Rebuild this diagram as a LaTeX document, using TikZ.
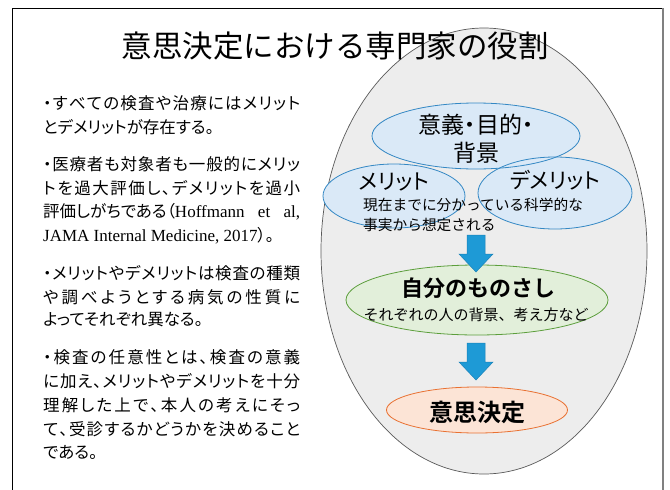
\documentclass[tikz,border=0pt]{standalone}
\usepackage{fontspec}
\setmainfont{Noto Sans CJK JP}[BoldFont={Noto Sans CJK JP Bold}]
\newfontfamily\jpp{Noto Sans CJK JP}[RawFeature=+palt,BoldFont={Noto Sans CJK JP Bold}]
\newfontfamily\timesf{Liberation Serif}
\usetikzlibrary{shapes.geometric,calc}
\makeatletter
\def\spreadit#1{\spr@first#1\@nil}
\def\spr@first#1{#1\spr@a}
\def\spr@a#1{\ifx#1\@nil\else\hskip0pt plus 1fil #1\expandafter\spr@a\fi}
\makeatother
\newcommand\jline[1]{\makebox[257pt][s]{\spreadit{#1}}}
\definecolor{bigfill}{RGB}{237,237,237}
\definecolor{bigline}{RGB}{90,90,90}
\definecolor{bluefill}{RGB}{218,233,247}
\definecolor{blueline}{RGB}{52,136,196}
\definecolor{greenfill}{RGB}{226,239,218}
\definecolor{greenline}{RGB}{92,158,60}
\definecolor{orangefill}{RGB}{252,228,214}
\definecolor{orangeline}{RGB}{233,113,50}
\definecolor{arrowblue}{RGB}{30,154,214}
\definecolor{arrowedge}{RGB}{26,130,185}
\tikzset{
  ell/.style={ellipse, inner sep=0pt, draw=none},
  lbl/.style={inner sep=0pt},
  bodyline/.style={lbl, anchor=west, font=\jpp\fontsize{16.5}{16.5}\selectfont},
  blueedge/.style={draw=blueline, line width=0.8pt},
  blockarrow/.style={fill=arrowblue, draw=arrowedge, line width=0.5pt},
}
\begin{document}
\begin{tikzpicture}[x=1pt,y=-1pt]
\useasboundingbox (0,0) rectangle (670,490);
\fill[white] (0,0) rectangle (670,490);
% slide frame
\draw[black, line width=1pt] (12,490) -- (12,8) -- (663,8);
\draw[black!50, line width=1.6pt] (663,8) -- (663,490);

% big ellipse
\node[ell, fill=bigfill, draw=bigline, line width=0.7pt, minimum width=326, minimum height=446] (big) at (484,251) {};

% title
\node[lbl, font=\fontsize{30.5}{30.5}\selectfont] (title) at (335,46) {意思決定における専門家の役割};

% left text
\node[bodyline] (p1a) at (43,103) {\jline{・すべての検査や治療にはメリット}};
\node[bodyline] (p1b) at (43,127) {とデメリットが存在する。};
\node[bodyline] (p2a) at (43,164) {\jline{・医療者も対象者も一般的にメリッ}};
\node[bodyline] (p2b) at (43,188) {\jline{トを過大評価し、デメリットを過小}};
\node[bodyline] (p2c) at (43,212) {\makebox[257pt][s]{評価しがちである（{\timesf\fontsize{17}{17}\selectfont Hoffmann et al,}}};
\node[bodyline] (p2d) at (43,236) {{\timesf\fontsize{17}{17}\selectfont JAMA Internal Medicine, 2017}）。};
\node[bodyline] (p3a) at (43,273) {\jline{・メリットやデメリットは検査の種類}};
\node[bodyline] (p3b) at (43,297) {\jline{や調べようとする病気の性質に}};
\node[bodyline] (p3c) at (43,320) {よってそれぞれ異なる。};
\node[bodyline] (p4a) at (43,357) {\jline{・検査の任意性とは、検査の意義}};
\node[bodyline] (p4b) at (43,381) {\jline{に加え、メリットやデメリットを十分}};
\node[bodyline] (p4c) at (43,405) {\jline{理解した上で、本人の考えにそっ}};
\node[bodyline] (p4d) at (43,429) {\jline{て、受診するかどうかを決めること}};
\node[bodyline] (p4e) at (43,452) {である。};

% three blue ellipses: fills then outlines
\node[ell, fill=bluefill, minimum width=208, minimum height=66] (imi) at (476,136) {};
\node[ell, fill=bluefill, minimum width=142, minimum height=64] (merit) at (394,196) {};
\node[ell, fill=bluefill, minimum width=154, minimum height=72] (demerit) at (555,193) {};
\draw[blueedge] (imi.center) ellipse [x radius=104, y radius=33];
\draw[blueedge] (merit.center) ellipse [x radius=71, y radius=32];
\draw[blueedge] (demerit.center) ellipse [x radius=77, y radius=36];

\node[lbl, font=\jpp\fontsize{23}{28}\selectfont, align=center] (imiT) at (476,139) {意義・目的・\\背景};
\node[lbl, font=\jpp\fontsize{21.5}{21.5}\selectfont] (meritT) at (394,182) {メリット};
\node[lbl, font=\jpp\fontsize{21.5}{21.5}\selectfont] (demeritT) at (555,180) {デメリット};
\node[lbl, anchor=west, font=\fontsize{14.7}{20}\selectfont, align=left] (sci) at (363,215) {現在までに分かっている科学的な\\事実から想定される};

% green ellipse
\node[ell, fill=greenfill, draw=greenline, line width=0.8pt, minimum width=262, minimum height=70] (own) at (477,300) {};
\node[lbl, font=\bfseries\fontsize{22}{22}\selectfont] (ownT) at (478,288) {自分のものさし};
\node[lbl, font=\fontsize{15}{15}\selectfont] (ownS) at (476,315) {それぞれの人の背景、考え方など};

% orange ellipse
\node[ell, fill=orangefill, draw=orangeline, line width=0.8pt, minimum width=181, minimum height=46] (dec) at (477,410) {};
\node[lbl, font=\bfseries\fontsize{24}{24}\selectfont] (decT) at (477,412) {意思決定};

% block arrows
\coordinate (a1) at (476,235);
\coordinate (a1tip) at (476,272);
\coordinate (a2) at (476,343);
\coordinate (a2tip) at (476,380);
\draw[blockarrow] ($(a1)+(-9,0)$) -- ($(a1)+(9,0)$) -- ($(a1)+(9,19)$) -- ($(a1)+(17,19)$) -- (a1tip) -- ($(a1)+(-17,19)$) -- ($(a1)+(-9,19)$) -- cycle;
\draw[blockarrow] ($(a2)+(-9,0)$) -- ($(a2)+(9,0)$) -- ($(a2)+(9,19)$) -- ($(a2)+(17,19)$) -- (a2tip) -- ($(a2)+(-17,19)$) -- ($(a2)+(-9,19)$) -- cycle;
\end{tikzpicture}
\end{document}
